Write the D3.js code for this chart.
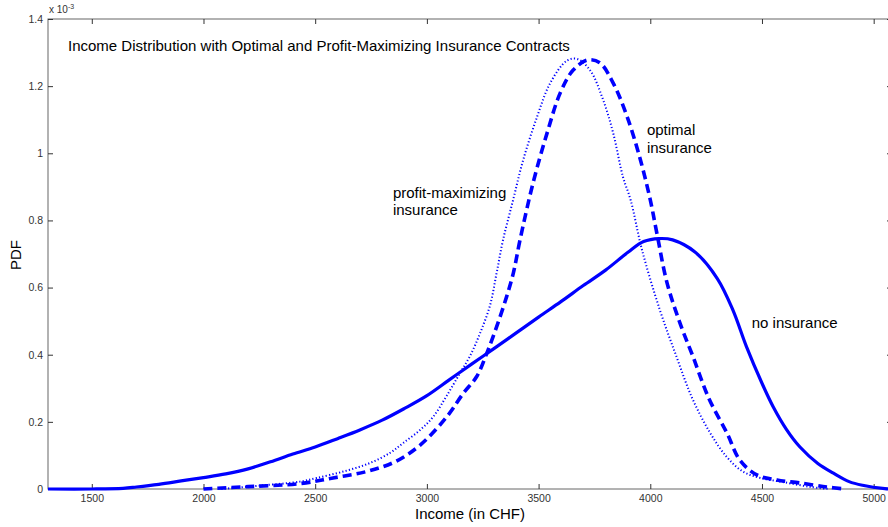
<!DOCTYPE html>
<html>
<head>
<meta charset="utf-8">
<script src="https://cdn.jsdelivr.net/npm/d3@7"></script>
<style>
  body { margin: 0; background: #fff; }
  svg { display: block; font-family: "Liberation Sans", Arial, sans-serif; }
</style>
</head>
<body>
<div id="chart"></div>
<script>
// Income (CHF) and PDF values (x 10^-3)
const noInsurance = [
  [1304, 0], [1500, 0], [1640, 0.002], [1700, 0.006], [1800, 0.014], [1900, 0.024],
  [2000, 0.034], [2100, 0.045], [2200, 0.060], [2300, 0.081], [2400, 0.104],
  [2500, 0.125], [2600, 0.150], [2700, 0.176], [2800, 0.205], [2900, 0.240],
  [3000, 0.278], [3100, 0.325], [3200, 0.372], [3300, 0.418], [3400, 0.465],
  [3500, 0.512], [3600, 0.558], [3700, 0.606], [3800, 0.652], [3900, 0.705],
  [3970, 0.737], [4040, 0.746], [4100, 0.742], [4200, 0.706], [4300, 0.627],
  [4370, 0.533], [4430, 0.425], [4500, 0.315], [4550, 0.245], [4610, 0.177],
  [4670, 0.125], [4750, 0.076], [4820, 0.047], [4890, 0.022], [4950, 0.011],
  [5050, 0.001], [5082, 0]
];

const optimalInsurance = [
  [2000, 0], [2200, 0.007], [2430, 0.016], [2580, 0.033], [2730, 0.052],
  [2857, 0.081], [2970, 0.131], [3089, 0.215], [3163, 0.285], [3223, 0.335],
  [3268, 0.404], [3312, 0.483], [3357, 0.573], [3387, 0.643], [3417, 0.742],
  [3475, 0.911], [3538, 1.060], [3597, 1.180], [3655, 1.248], [3720, 1.278],
  [3775, 1.269], [3834, 1.209], [3897, 1.108], [3956, 0.980], [4000, 0.861],
  [4030, 0.760], [4075, 0.614], [4133, 0.494], [4192, 0.393], [4262, 0.270],
  [4343, 0.167], [4401, 0.086], [4477, 0.042], [4567, 0.027], [4670, 0.018],
  [4790, 0.006], [4870, 0]
];

const profitMaxInsurance = [
  [2080, 0], [2250, 0.010], [2432, 0.022], [2507, 0.033], [2626, 0.052],
  [2740, 0.076], [2836, 0.108], [2894, 0.137], [2970, 0.176], [3028, 0.215],
  [3089, 0.278], [3148, 0.345], [3193, 0.396], [3238, 0.464], [3283, 0.548],
  [3312, 0.643], [3341, 0.742], [3386, 0.861], [3431, 0.980], [3493, 1.108],
  [3552, 1.209], [3627, 1.276], [3672, 1.281], [3730, 1.248], [3789, 1.159],
  [3834, 1.060], [3878, 0.929], [3912, 0.861], [3963, 0.712], [4043, 0.533],
  [4118, 0.393], [4188, 0.270], [4268, 0.167], [4343, 0.095], [4417, 0.051],
  [4493, 0.033], [4600, 0.020], [4720, 0.006], [4800, 0]
];

const xTicks = [1500, 2000, 2500, 3000, 3500, 4000, 4500, 5000];
const yTicks = [0, 0.2, 0.4, 0.6, 0.8, 1, 1.2, 1.4];

const labels = [
  { lines: ["optimal", "insurance"], x: 3985, y: 1.054 },
  { lines: ["profit-maximizing", "insurance"], x: 2848, y: 0.867 },
  { lines: ["no insurance"], x: 4454, y: 0.48 }
];

const W = 888, H = 527;
const plotLeft = 48, plotRight = 892, plotTop = 19, plotBottom = 489;

const svg = d3.select("#chart").append("svg")
  .attr("width", W)
  .attr("height", H);

const x = d3.scaleLinear().domain([1304, 5082]).range([plotLeft, plotRight]);
const y = d3.scaleLinear().domain([0, 1.4]).range([plotBottom, plotTop]);

// axes box
const axisColor = "#666";
const tickLen = 5;

svg.append("rect")
  .attr("x", plotLeft).attr("y", plotTop)
  .attr("width", plotRight - plotLeft).attr("height", plotBottom - plotTop)
  .attr("fill", "none")
  .attr("stroke", axisColor)
  .attr("stroke-width", 1);

// bottom axis with inner ticks
const xAxis = svg.append("g")
  .attr("transform", `translate(0, ${plotBottom})`)
  .call(d3.axisBottom(x).tickValues(xTicks).tickSize(-tickLen).tickPadding(6).tickFormat(d3.format("d")));
xAxis.select(".domain").remove();

// top ticks
svg.append("g")
  .attr("transform", `translate(0, ${plotTop})`)
  .call(d3.axisTop(x).tickValues(xTicks).tickSize(-tickLen).tickFormat(""))
  .select(".domain").remove();

// left axis
const yAxis = svg.append("g")
  .attr("transform", `translate(${plotLeft}, 0)`)
  .call(d3.axisLeft(y).tickValues(yTicks).tickSize(-tickLen).tickPadding(5).tickFormat(d => d === 0 || d === 1 ? d3.format("d")(d) : d3.format(".1f")(d)));
yAxis.select(".domain").remove();

// right ticks
svg.append("g")
  .attr("transform", `translate(${plotRight}, 0)`)
  .call(d3.axisRight(y).tickValues(yTicks).tickSize(-tickLen).tickFormat(""))
  .select(".domain").remove();

svg.selectAll(".tick line").attr("stroke", "#333");
svg.selectAll(".tick text")
  .attr("fill", "#333")
  .style("font-size", "10.5px")
  .style("font-family", "\"Liberation Sans\", Arial, sans-serif");

// exponent label
const expo = svg.append("text")
  .attr("x", plotLeft + 1)
  .attr("y", 13)
  .attr("fill", "#333")
  .style("font-size", "10px")
  .text("x 10");
expo.append("tspan")
  .attr("dy", -4)
  .style("font-size", "7px")
  .text("-3");

// axis titles
svg.append("text")
  .attr("x", 470)
  .attr("y", 519)
  .attr("text-anchor", "middle")
  .style("font-size", "15px")
  .text("Income (in CHF)");

svg.append("text")
  .attr("transform", `translate(21, 255) rotate(-90)`)
  .attr("text-anchor", "middle")
  .style("font-size", "15px")
  .text("PDF");

// chart title inside the axes
svg.append("text")
  .attr("x", 68)
  .attr("y", 51)
  .style("font-size", "15px")
  .text("Income Distribution with Optimal and Profit-Maximizing Insurance Contracts");

// curves
const line = d3.line()
  .x(d => x(d[0]))
  .y(d => y(d[1]))
  .curve(d3.curveCatmullRom.alpha(0.5));

const plot = svg.append("g");

plot.append("path")
  .datum(noInsurance)
  .attr("d", line)
  .attr("fill", "none")
  .attr("stroke", "#0000ff")
  .attr("stroke-width", 3.2);

plot.append("path")
  .datum(optimalInsurance)
  .attr("d", line)
  .attr("fill", "none")
  .attr("stroke", "#0000ff")
  .attr("stroke-width", 3.6)
  .attr("stroke-dasharray", "9,5");

plot.append("path")
  .datum(profitMaxInsurance)
  .attr("d", line)
  .attr("fill", "none")
  .attr("stroke", "#0000ff")
  .attr("stroke-width", 2)
  .attr("stroke-dasharray", "1.2,2.2");

// curve annotations
labels.forEach(l => {
  const t = svg.append("text")
    .attr("x", x(l.x))
    .attr("y", y(l.y))
    .style("font-size", "15px");
  l.lines.forEach((s, i) => {
    t.append("tspan")
      .attr("x", x(l.x))
      .attr("dy", i === 0 ? 0 : 17.5)
      .text(s);
  });
});
</script>
</body>
</html>
